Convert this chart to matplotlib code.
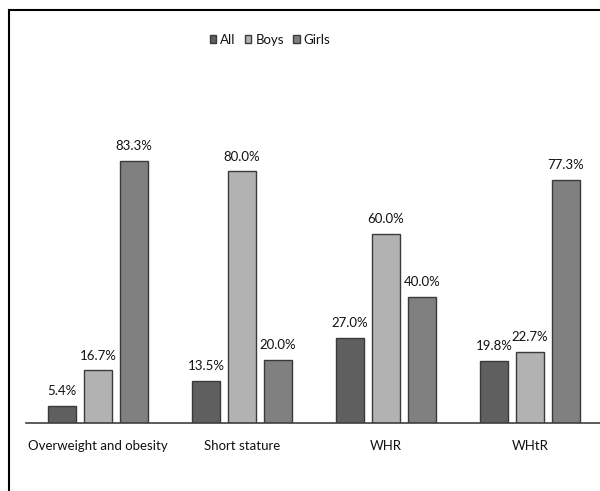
import matplotlib.pyplot as plt
import numpy as np
from matplotlib.lines import Line2D

plt.rcParams['font.family'] = ['Lato', 'DejaVu Sans']

categories = ['Overweight and obesity', 'Short stature', 'WHR', 'WHtR']
all_vals = [5.4, 13.5, 27.0, 19.8]
boys_vals = [16.7, 80.0, 60.0, 22.7]
girls_vals = [83.3, 20.0, 40.0, 77.3]
series = ['All', 'Boys', 'Girls']
colors = ['#5f5f5f', '#b2b2b2', '#808080']

fig = plt.figure(figsize=(6, 4.91), dpi=100)
ax = fig.add_axes([26 / 600, 68 / 491, 576 / 600, 363 / 491])

x = np.arange(len(categories))
w = 0.195
for k, (vals, c, name) in enumerate(zip([all_vals, boys_vals, girls_vals], colors, series)):
    bars = ax.bar(x + (k - 1) * 0.25, vals, w, color=c, edgecolor='#3a3a3a', linewidth=1, label=name)
    for b, v in zip(bars, vals):
        ax.text(b.get_x() + b.get_width() / 2, v + 2.8, f'{v:.1f}%', ha='center', va='bottom',
                fontsize=9.5, color='#111111')

ax.set_xlim(-0.5, 3.5)
ax.set_ylim(0, 115.4)
ax.set_yticks([])
ax.set_xticks(x)
ax.set_xticklabels(categories, fontsize=9.5, color='#111111')
ax.tick_params(axis='x', length=0, pad=12)
for s in ['top', 'right', 'left']:
    ax.spines[s].set_visible(False)
ax.spines['bottom'].set_color('#404040')
ax.spines['bottom'].set_linewidth(1.2)

ax.legend(loc='upper center', bbox_to_anchor=(270 / 600, 1 - 22 / 491), bbox_transform=fig.transFigure,
          ncol=3, frameon=False, fontsize=9.5, handlelength=0.5, handleheight=0.5,
          handletextpad=0.3, columnspacing=0.7, labelcolor='#111111')

# frame around figure (left and top only)
fig.add_artist(Line2D([9 / 600, 9 / 600], [0, 1 - 9.5 / 491], color='black', lw=1.5))
fig.add_artist(Line2D([9 / 600, 1], [1 - 9.5 / 491, 1 - 9.5 / 491], color='black', lw=1.5))

fig.savefig('out.png', dpi=100)
